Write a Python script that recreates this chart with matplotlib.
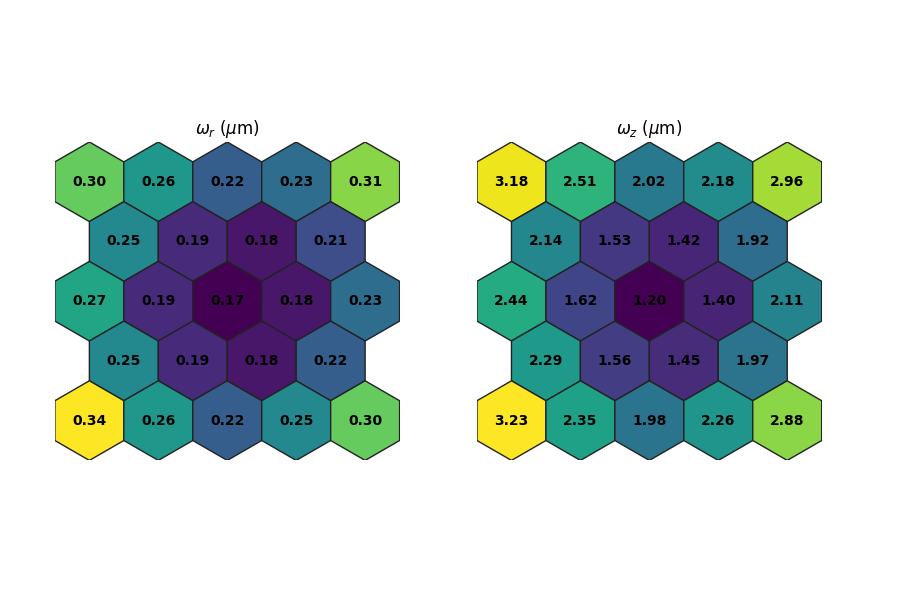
import numpy as np
import matplotlib
matplotlib.use("Agg")
import matplotlib.pyplot as plt
from matplotlib.patches import RegularPolygon

omega_r = [
    [0.30, 0.26, 0.22, 0.23, 0.31],
    [0.25, 0.19, 0.18, 0.21],
    [0.27, 0.19, 0.17, 0.18, 0.23],
    [0.25, 0.19, 0.18, 0.22],
    [0.34, 0.26, 0.22, 0.25, 0.30],
]
omega_z = [
    [3.18, 2.51, 2.02, 2.18, 2.96],
    [2.14, 1.53, 1.42, 1.92],
    [2.44, 1.62, 1.20, 1.40, 2.11],
    [2.29, 1.56, 1.45, 1.97],
    [3.23, 2.35, 1.98, 2.26, 2.88],
]
titles = [r"$\omega_r$ ($\mu$m)", r"$\omega_z$ ($\mu$m)"]

fig = plt.figure(figsize=(9, 6), dpi=100)
rad = 1 / np.sqrt(3)
dy = np.sqrt(3) / 2
lefts = [0.061, 0.530]

for data, title, left in zip([omega_r, omega_z], titles, lefts):
    ax = fig.add_axes([left, 0.232, 0.383, 0.532])
    flat = [v for row in data for v in row]
    norm = plt.Normalize(min(flat), max(flat))
    cmap = plt.get_cmap("viridis")
    for i, row in enumerate(data):
        off = 0.5 if len(row) == 4 else 0.0
        for j, v in enumerate(row):
            x, y = j + off, -i * dy
            ax.add_patch(RegularPolygon((x, y), 6, radius=rad, orientation=0,
                                        facecolor=cmap(norm(v)), edgecolor="#222222", lw=1))
            ax.text(x, y, f"{v:.2f}", ha="center", va="center",
                    fontsize=10, fontweight="bold", color="black")
    ax.set_xlim(-0.5, 4.5)
    ax.set_ylim(-4 * dy - rad, rad)
    ax.set_aspect("equal")
    ax.axis("off")
    ax.set_title(title, fontsize=12, pad=6)

fig.savefig("out.png")
